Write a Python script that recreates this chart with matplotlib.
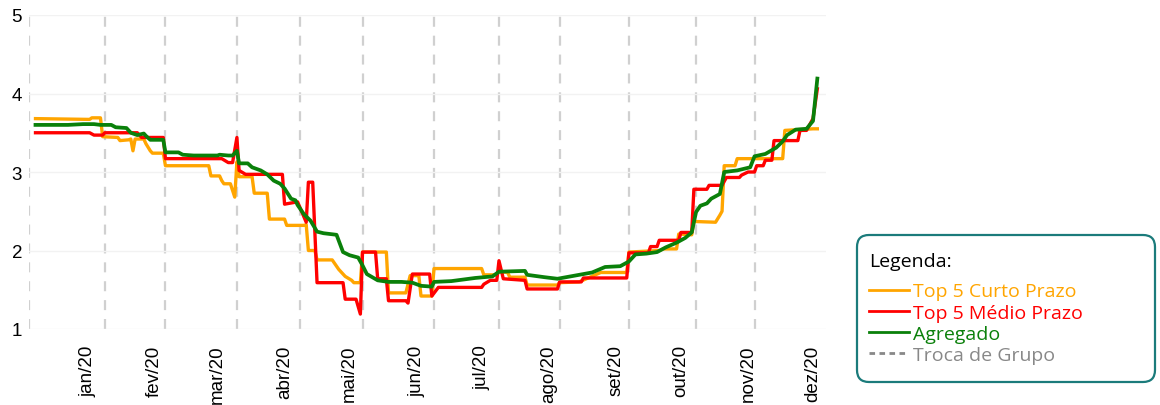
import matplotlib
matplotlib.use("Agg")
import matplotlib.pyplot as plt
import pandas as pd
from matplotlib.patches import FancyBboxPatch
from matplotlib.lines import Line2D

# Top 5 Curto Prazo
curto_datas = ["2019-12-08", "2020-01-02", "2020-01-03", "2020-01-07", "2020-01-08", "2020-01-15",
               "2020-01-16", "2020-01-20", "2020-01-21", "2020-01-22", "2020-01-23", "2020-01-27",
               "2020-01-28", "2020-01-30", "2020-01-31", "2020-02-05", "2020-02-06", "2020-02-26",
               "2020-02-27", "2020-03-02", "2020-03-03", "2020-03-04", "2020-03-07", "2020-03-09",
               "2020-03-10", "2020-03-11", "2020-03-17", "2020-03-18", "2020-03-24", "2020-03-25",
               "2020-04-01", "2020-04-02", "2020-04-10", "2020-04-11", "2020-04-12", "2020-04-15",
               "2020-04-16", "2020-04-23", "2020-04-26", "2020-04-29", "2020-05-02", "2020-05-03",
               "2020-05-06", "2020-05-07", "2020-05-18", "2020-05-19", "2020-05-27", "2020-05-29",
               "2020-06-02", "2020-06-03", "2020-06-08", "2020-06-09", "2020-07-01", "2020-07-02",
               "2020-07-08", "2020-07-09", "2020-07-13", "2020-07-14", "2020-07-21", "2020-07-22",
               "2020-08-05", "2020-08-06", "2020-08-15", "2020-08-20", "2020-08-25", "2020-09-06",
               "2020-09-07", "2020-09-21", "2020-09-23", "2020-09-29", "2020-09-30", "2020-10-06",
               "2020-10-07", "2020-10-17", "2020-10-19", "2020-10-20", "2020-10-21", "2020-10-26",
               "2020-10-27", "2020-11-17", "2020-11-18", "2020-12-01", "2020-12-03"]
curto_vals = [3.68, 3.67, 3.69, 3.69, 3.45, 3.44,
              3.40, 3.41, 3.42, 3.27, 3.42, 3.42,
              3.36, 3.27, 3.24, 3.24, 3.08, 3.08,
              2.95, 2.95, 2.89, 2.85, 2.85, 2.68,
              3.13, 2.94, 2.94, 2.73, 2.73, 2.40,
              2.40, 2.32, 2.32, 2.33, 2.00, 2.00,
              1.88, 1.88, 1.76, 1.67, 1.62, 1.59,
              1.59, 1.98, 1.98, 1.46, 1.46, 1.68,
              1.68, 1.42, 1.42, 1.77, 1.77, 1.69,
              1.69, 1.73, 1.72, 1.66, 1.66, 1.56,
              1.56, 1.59, 1.60, 1.66, 1.72, 1.72,
              1.98, 2.00, 2.02, 2.02, 2.21, 2.20,
              2.37, 2.36, 2.45, 2.50, 3.08, 3.08,
              3.17, 3.17, 3.53, 3.55, 3.55]

# Top 5 Medio Prazo
medio_datas = ["2019-12-08", "2020-01-02", "2020-01-04", "2020-01-08", "2020-01-09", "2020-01-24",
               "2020-01-26", "2020-02-05", "2020-02-06", "2020-03-03", "2020-03-06", "2020-03-08",
               "2020-03-10", "2020-03-11", "2020-03-14", "2020-03-31", "2020-04-01", "2020-04-07",
               "2020-04-11", "2020-04-12", "2020-04-14", "2020-04-16", "2020-04-28", "2020-04-29",
               "2020-05-04", "2020-05-06", "2020-05-07", "2020-05-13", "2020-05-14", "2020-05-18",
               "2020-05-19", "2020-05-27", "2020-05-28", "2020-05-30", "2020-06-07", "2020-06-08",
               "2020-06-11", "2020-07-01", "2020-07-02", "2020-07-05", "2020-07-08", "2020-07-09",
               "2020-07-11", "2020-07-21", "2020-07-22", "2020-08-05", "2020-08-06", "2020-08-16",
               "2020-08-17", "2020-09-06", "2020-09-07", "2020-09-16", "2020-09-17", "2020-09-20",
               "2020-09-21", "2020-09-30", "2020-10-01", "2020-10-06", "2020-10-07", "2020-10-13",
               "2020-10-14", "2020-10-20", "2020-10-22", "2020-10-28", "2020-10-29", "2020-11-01",
               "2020-11-04", "2020-11-05", "2020-11-08", "2020-11-09", "2020-11-12", "2020-11-13",
               "2020-11-24", "2020-11-25", "2020-11-28", "2020-12-01", "2020-12-03"]
medio_vals = [3.50, 3.50, 3.47, 3.47, 3.50, 3.50,
              3.44, 3.44, 3.17, 3.17, 3.12, 3.12,
              3.44, 3.02, 2.97, 2.97, 2.59, 2.62,
              2.36, 2.87, 2.87, 1.59, 1.59, 1.38,
              1.38, 1.19, 1.98, 1.98, 1.64, 1.64,
              1.36, 1.36, 1.33, 1.70, 1.70, 1.42,
              1.53, 1.53, 1.57, 1.62, 1.62, 1.87,
              1.64, 1.62, 1.51, 1.51, 1.60, 1.60,
              1.65, 1.65, 1.97, 1.97, 2.05, 2.05,
              2.13, 2.13, 2.23, 2.23, 2.78, 2.78,
              2.83, 2.83, 2.93, 2.93, 2.96, 3.00,
              3.00, 3.08, 3.08, 3.15, 3.15, 3.40,
              3.40, 3.53, 3.53, 3.68, 4.06]

# Agregado
agreg_datas = ["2019-12-08", "2019-12-23", "2019-12-30", "2020-01-04", "2020-01-07", "2020-01-12",
               "2020-01-14", "2020-01-19", "2020-01-21", "2020-01-24", "2020-01-27", "2020-01-28",
               "2020-01-30", "2020-02-05", "2020-02-06", "2020-02-12", "2020-02-14", "2020-02-19",
               "2020-03-01", "2020-03-02", "2020-03-06", "2020-03-08", "2020-03-10", "2020-03-11",
               "2020-03-15", "2020-03-17", "2020-03-21", "2020-03-24", "2020-03-27", "2020-03-30",
               "2020-04-01", "2020-04-04", "2020-04-06", "2020-04-07", "2020-04-10", "2020-04-13",
               "2020-04-16", "2020-04-19", "2020-04-25", "2020-04-28", "2020-05-01", "2020-05-05",
               "2020-05-07", "2020-05-09", "2020-05-14", "2020-05-19", "2020-05-25", "2020-05-30",
               "2020-06-03", "2020-06-08", "2020-06-09", "2020-06-17", "2020-06-28", "2020-07-06",
               "2020-07-09", "2020-07-21", "2020-07-22", "2020-07-30", "2020-08-05", "2020-08-13",
               "2020-08-21", "2020-08-27", "2020-09-03", "2020-09-07", "2020-09-10", "2020-09-15",
               "2020-09-20", "2020-09-24", "2020-09-29", "2020-10-03", "2020-10-06", "2020-10-08",
               "2020-10-10", "2020-10-13", "2020-10-15", "2020-10-19", "2020-10-21", "2020-10-27",
               "2020-11-02", "2020-11-04", "2020-11-09", "2020-11-14", "2020-11-17", "2020-11-19",
               "2020-11-23", "2020-11-28", "2020-12-01", "2020-12-03"]
agreg_vals = [3.60, 3.60, 3.61, 3.61, 3.60, 3.60,
              3.57, 3.56, 3.50, 3.47, 3.49, 3.46,
              3.41, 3.41, 3.25, 3.25, 3.22, 3.21,
              3.21, 3.22, 3.21, 3.21, 3.27, 3.11,
              3.11, 3.06, 3.02, 2.97, 2.89, 2.85,
              2.79, 2.66, 2.64, 2.58, 2.46, 2.38,
              2.24, 2.22, 2.20, 1.98, 1.94, 1.91,
              1.81, 1.70, 1.62, 1.60, 1.60, 1.59,
              1.55, 1.54, 1.60, 1.61, 1.65, 1.67,
              1.73, 1.74, 1.69, 1.66, 1.64, 1.68,
              1.72, 1.79, 1.80, 1.86, 1.95, 1.96,
              1.98, 2.04, 2.10, 2.16, 2.23, 2.49,
              2.57, 2.60, 2.66, 2.72, 3.00, 3.02,
              3.06, 3.20, 3.23, 3.31, 3.39, 3.47,
              3.54, 3.55, 3.65, 4.19]

# datas de troca de grupo
trocas = ["2019-12-05", "2020-01-09", "2020-02-06", "2020-03-10", "2020-04-08", "2020-05-07",
          "2020-06-09", "2020-07-09", "2020-08-06", "2020-09-07", "2020-10-08", "2020-11-04"]

meses = ["jan/20", "fev/20", "mar/20", "abr/20", "mai/20", "jun/20",
         "jul/20", "ago/20", "set/20", "out/20", "nov/20", "dez/20"]
meses_datas = pd.date_range("2020-01-01", periods=12, freq="MS")

fig = plt.figure(figsize=(11.6, 4.06), dpi=100)
ax = fig.add_axes([29 / 1160, 1 - 330 / 406, (826 - 29) / 1160, (330 - 16) / 406])

for d in trocas:
    ax.axvline(pd.Timestamp(d), color="#d0d0d0", lw=1.6, dashes=(4.5, 4), zorder=1)

ax.plot(pd.to_datetime(curto_datas), curto_vals, color="#ffa500", lw=2.4, zorder=3)
ax.plot(pd.to_datetime(medio_datas), medio_vals, color="#ff0000", lw=2.4, zorder=4)
ax.plot(pd.to_datetime(agreg_datas), agreg_vals, color="#0a800a", lw=2.7, zorder=5)

ax.set_xlim(pd.Timestamp("2019-12-05"), pd.Timestamp("2020-12-07"))
ax.set_ylim(1, 5)
ax.set_yticks([1, 2, 3, 4, 5])
ax.set_xticks(meses_datas)
ax.set_xticklabels(meses, rotation=90, fontfamily="Liberation Sans", fontsize=13.5)
for t in ax.get_yticklabels():
    t.set_fontfamily("Liberation Sans")
    t.set_fontsize(13.5)
ax.tick_params(axis="x", length=0, pad=11)
ax.tick_params(axis="y", length=0, pad=5)
ax.grid(axis="y", color="#f2f2f2", lw=1)
for s in ax.spines.values():
    s.set_visible(False)

# caixa da legenda
box = FancyBboxPatch((8.57, 0.23), 2.98, 1.47, boxstyle="round,pad=0,rounding_size=0.12",
                     transform=fig.dpi_scale_trans, facecolor="white", edgecolor="#1b7b7b",
                     lw=1.6, zorder=0)
fig.patches.append(box)

handles = [Line2D([], [], color="#ffa500", lw=2),
           Line2D([], [], color="#ff0000", lw=2),
           Line2D([], [], color="#0a800a", lw=2),
           Line2D([], [], color="#888888", lw=2, dashes=(2, 1.6))]
labels = ["Top 5 Curto Prazo", "Top 5 Médio Prazo", "Agregado", "Troca de Grupo"]
leg = fig.legend(handles, labels, loc="upper left", bbox_to_anchor=(8.69, 1.53),
                 bbox_transform=fig.dpi_scale_trans, frameon=False, title="Legenda:",
                 alignment="left", borderpad=0, borderaxespad=0, handlelength=2.05,
                 handletextpad=0.2, labelspacing=0.16, prop={"family": "Open Sans", "size": 14})
leg.get_title().set_fontfamily("Open Sans")
leg.get_title().set_fontsize(14)
leg._legend_box.sep = 9
for txt, c in zip(leg.get_texts(), ["#ffa500", "#ff0000", "#0a800a", "#888888"]):
    txt.set_color(c)

fig.savefig("out.png", dpi=100)
